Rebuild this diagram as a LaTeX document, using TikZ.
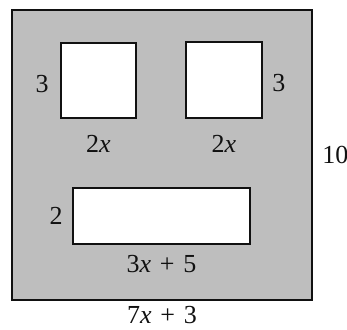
\documentclass[tikz,border=0pt]{standalone}
\usepackage{fontspec}
\setmainfont{Liberation Serif}
\usetikzlibrary{positioning}
\definecolor{panel}{HTML}{BEBEBE}
\definecolor{ink}{HTML}{111111}
\newcommand{\Lbl}{\fontsize{13}{15}\selectfont}

\begin{document}
\begin{tikzpicture}[x=0.5pt,y=-0.5pt, font=\Lbl,
    hole/.style={draw=ink, fill=white, line width=1pt, inner sep=0pt, anchor=north west},
    dim/.style={text=ink, inner sep=0pt}]
  \useasboundingbox (0,0) rectangle (347,330);
  % outer plate
  \node[draw=ink, fill=panel, line width=1pt, inner sep=0pt, anchor=north west,
        minimum width=150pt, minimum height=145pt] (plate) at (11,9) {};
  % cut-outs
  \node[hole, minimum width=37.5pt, minimum height=37.5pt] (sqL) at (60,42) {};
  \node[hole, minimum width=38pt, minimum height=38pt] (sqR) at (185,41) {};
  \node[hole, minimum width=88.5pt, minimum height=28pt] (slot) at (72,187) {};
  % side lengths
  \node[dim, left=5.5pt of sqL, yshift=-2pt] (hL) {3};
  \node[dim, below=8pt of sqL] (wL) {2\textit{x}};
  \node[dim, right=4.5pt of sqR, yshift=-1.5pt] (hR) {3};
  \node[dim, below=8pt of sqR] (wR) {2\textit{x}};
  \node[dim, left=4.5pt of slot] (hS) {2};
  \node[dim, below=5pt of slot] (wS) {3\textit{x}\,\,+\,\,5};
  \node[dim, right=4.5pt of plate] (hP) {10};
  \node[dim, below=2.5pt of plate] (wP) {7\textit{x}\,\,+\,\,3};
\end{tikzpicture}
\end{document}
